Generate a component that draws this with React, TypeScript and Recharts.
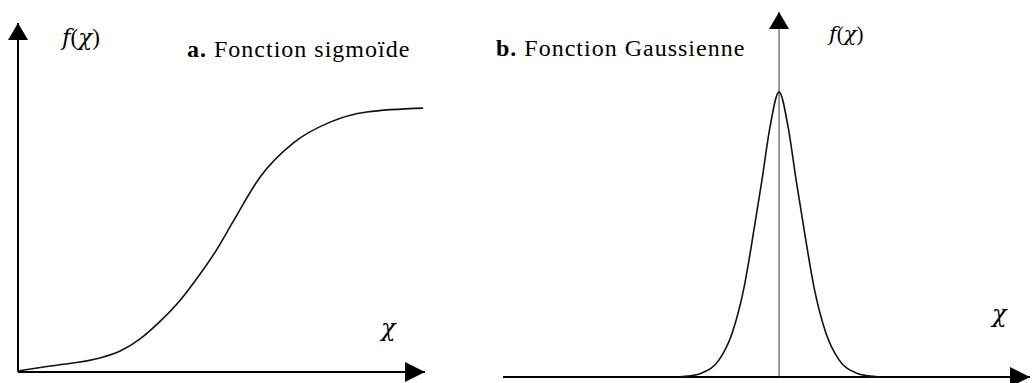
import { LineChart, Line, XAxis, YAxis, ReferenceLine, ReferenceDot } from "recharts";

// a. sigmoid (x in 0..100 along the axis, y as fraction of axis height)
const sigmoidX = [0, 7.9, 20.1, 25.1, 30.0, 34.9, 39.8, 44.7, 48.9, 52.8, 59.5, 67.6, 76.7, 85.7, 99.5];
const sigmoidY = [0.003, 0.017, 0.04, 0.06, 0.095, 0.145, 0.205, 0.28, 0.352, 0.43, 0.559, 0.656, 0.716, 0.745, 0.756];

// b. gaussian, centred on the vertical axis
const gaussX = [-4, -3.55, -3.07, -2.39, -1.87, -1.39, -1.0, -0.68, -0.36, 0, 0.36, 0.68, 1.0, 1.39, 1.87, 2.39, 3.07, 3.55, 4];
const gaussY = [0, 0.003, 0.011, 0.047, 0.12, 0.247, 0.403, 0.54, 0.685, 0.781, 0.685, 0.54, 0.403, 0.247, 0.12, 0.047, 0.011, 0.003, 0];

const sigmoidData = sigmoidX.map((x, i) => ({ x, y: sigmoidY[i] }));
const gaussData = gaussX.map((x, i) => ({ x, y: gaussY[i] }));

const FONT = "'Liberation Serif', 'Times New Roman', serif";
const txt = { fontFamily: FONT };
// the italic math glyphs: Liberation Serif italic seems missing, DejaVu Serif looks closer
const ital = { fontFamily: "'DejaVu Serif', serif", fontStyle: "italic" as const };

// arrowheads drawn around the dot position given by the chart scales
const ArrowRight = (p: any) => (
  <polygon points={`${p.cx},${p.cy} ${p.cx - 20},${p.cy - 10} ${p.cx - 20},${p.cy + 10}`} fill="#000" />
);
const ArrowUp = (p: any) => (
  <polygon points={`${p.cx},${p.cy} ${p.cx - 10},${p.cy + 17} ${p.cx + 10},${p.cy + 17}`} fill="#000" />
);

export default function App() {
  return (
    <div style={{ position: "absolute", left: 0, top: 0, width: 1032, height: 383, background: "#fff" }}>
      <div style={{ position: "absolute", left: 0, top: 0 }}>
        <LineChart width={440} height={383} data={sigmoidData} margin={{ top: 23, right: 15, left: 18, bottom: 11 }}>
          <XAxis dataKey="x" type="number" domain={[0, 100]} hide />
          <YAxis type="number" domain={[0, 1]} hide />
          <ReferenceLine y={0} stroke="#000" strokeWidth={2} />
          <ReferenceLine x={0} stroke="#000" strokeWidth={2} />
          <ReferenceDot x={100} y={0} r={0} shape={ArrowRight} />
          <ReferenceDot x={0} y={1} r={0} shape={ArrowUp} />
          <Line dataKey="y" type="monotone" stroke="#111" strokeWidth={1.6} dot={false} isAnimationActive={false} />
        </LineChart>
      </div>
      <div style={{ position: "absolute", left: 480, top: 0 }}>
        <LineChart width={552} height={383} data={gaussData} margin={{ top: 12, right: 2, left: 23, bottom: 6 }}>
          <XAxis dataKey="x" type="number" domain={[-11, 10]} hide />
          <YAxis type="number" domain={[0, 1]} hide />
          <ReferenceLine y={0} stroke="#000" strokeWidth={2} />
          <ReferenceLine x={0} stroke="#333" strokeWidth={1} />
          <ReferenceDot x={10} y={0} r={0} shape={ArrowRight} />
          <ReferenceDot x={0} y={1} r={0} shape={ArrowUp} />
          <Line dataKey="y" type="monotone" stroke="#111" strokeWidth={1.6} dot={false} isAnimationActive={false} />
        </LineChart>
      </div>
      <svg width={1032} height={383} style={{ position: "absolute", left: 0, top: 0, pointerEvents: "none" }} fill="#000">
        <text x={62} y={45} fontSize={23} style={txt}>
          <tspan style={ital}>f</tspan>(<tspan style={ital}>χ</tspan>)
        </text>
        <text x={187} y={57} fontSize={24} letterSpacing={1} style={txt}>
          <tspan fontWeight="bold">a.</tspan> Fonction sigmoïde
        </text>
        <text x={381} y={336} fontSize={24} style={ital}>χ</text>
        <text x={496} y={56} fontSize={24} letterSpacing={1} style={txt}>
          <tspan fontWeight="bold">b.</tspan> Fonction Gaussienne
        </text>
        <text x={829} y={41} fontSize={21} style={txt}>
          <tspan style={ital}>f</tspan>(<tspan style={ital}>χ</tspan>)
        </text>
        <text x={992} y={322} fontSize={24} style={ital}>χ</text>
      </svg>
    </div>
  );
}
